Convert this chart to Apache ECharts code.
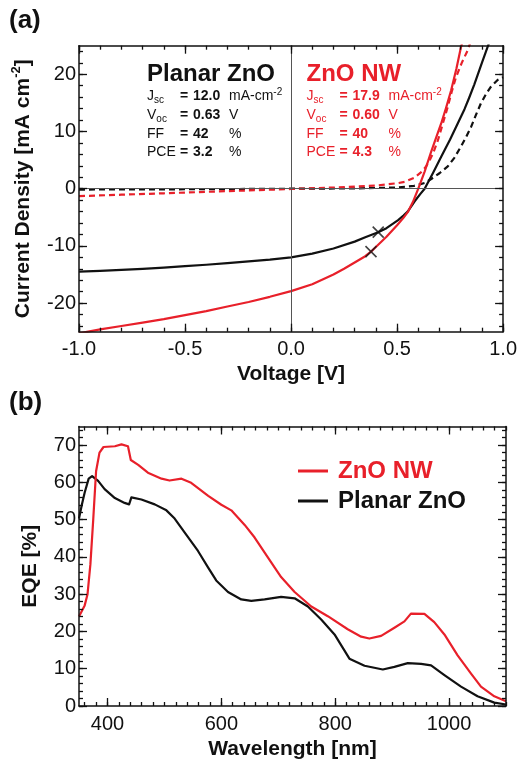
<!DOCTYPE html>
<html lang="en">
<head>
<meta charset="UTF-8">
<title>ZnO NW vs Planar ZnO</title>
<style>html,body{margin:0;padding:0;background:#fff;}</style>
</head>
<body>
<div id="chart" style="width:520px;height:763px;"></div>
<script src="https://cdn.jsdelivr.net/npm/echarts@6/dist/echarts.min.js"></script>
<script>
// (a) J-V curves, [voltage V, current density mA/cm2]
const nwLight = [[-1.0, -25.3], [-0.9, -24.6], [-0.8, -24.0], [-0.7, -23.4], [-0.6, -22.8], [-0.5, -22.1],
  [-0.4, -21.4], [-0.3, -20.6], [-0.2, -19.8], [-0.1, -18.9], [0.0, -17.9], [0.1, -16.7], [0.2, -15.0],
  [0.25, -14.0], [0.3, -12.9], [0.35, -11.8], [0.377, -11.0], [0.4, -10.2], [0.45, -8.4], [0.5, -6.4],
  [0.53, -5.1], [0.552, -4.0], [0.575, -2.3], [0.6, 0.0], [0.63, 3.0], [0.661, 6.5], [0.685, 9.0],
  [0.708, 11.4], [0.73, 14.0], [0.755, 17.2], [0.78, 21.0], [0.8, 24.5], [0.81, 26.0]];
const nwDark = [[-1.0, -1.3], [-0.8, -1.05], [-0.6, -0.8], [-0.4, -0.55], [-0.2, -0.3], [0.0, -0.05],
  [0.2, 0.2], [0.4, 0.55], [0.5, 0.95], [0.536, 1.2], [0.58, 1.9], [0.614, 2.9], [0.635, 3.8],
  [0.653, 4.9], [0.672, 6.4], [0.692, 8.4], [0.715, 11.3], [0.739, 14.3], [0.758, 17.0], [0.778, 19.5],
  [0.805, 22.0], [0.833, 24.2], [0.845, 25.5]];
const planarLight = [[-1.0, -14.5], [-0.9, -14.35], [-0.8, -14.2], [-0.7, -14.0], [-0.6, -13.8], [-0.5, -13.55],
  [-0.4, -13.3], [-0.3, -13.0], [-0.2, -12.7], [-0.1, -12.4], [0.0, -12.0], [0.1, -11.35], [0.2, -10.45],
  [0.3, -9.25], [0.35, -8.5], [0.411, -7.6], [0.45, -6.9], [0.505, -5.5], [0.53, -4.7], [0.55, -4.0],
  [0.583, -2.2], [0.61, -0.9], [0.63, 0.0], [0.67, 2.8], [0.708, 5.6], [0.75, 8.6], [0.786, 11.4],
  [0.818, 13.9], [0.84, 15.9], [0.864, 18.2], [0.9, 22.0], [0.927, 24.8], [0.935, 25.6]];
const planarDark = [[-1.0, -0.15], [-0.5, -0.1], [0.0, 0.0], [0.3, 0.05], [0.5, 0.2], [0.58, 0.5],
  [0.63, 1.0], [0.661, 1.7], [0.7, 2.7], [0.739, 3.9], [0.77, 5.4], [0.8, 7.3], [0.825, 9.0],
  [0.849, 10.8], [0.872, 12.9], [0.895, 14.9], [0.92, 16.6], [0.942, 17.8], [0.974, 19.0], [1.0, 19.5]];
// maximum power points
const mppPoints = [[0.411, -7.6], [0.377, -11.0]];

// (b) EQE spectra, [wavelength nm, EQE %]
const nwEqe = [[350, 24.0], [360, 27.0], [365, 30.0], [370, 38.0], [375, 50.0], [380, 63.0], [386, 68.0],
  [393, 69.5], [413, 69.7], [424.6, 70.2], [436, 69.7], [441, 66.0], [454, 64.7], [471, 62.6], [495, 61.0],
  [509, 60.5], [530, 61.0], [547, 59.9], [577, 56.4], [600, 54.0], [617.5, 52.5], [641, 48.6], [658.5, 45.2],
  [682, 39.8], [705, 34.6], [728.7, 30.6], [758, 26.7], [787, 24.1], [822, 20.6], [845.6, 18.6], [860, 18.1],
  [880.7, 18.8], [904, 21.0], [921.6, 22.7], [933, 24.8], [956.7, 24.7], [974, 22.5], [991.8, 19.2],
  [1015, 13.6], [1038.6, 8.7], [1056, 5.2], [1079.5, 2.6], [1100, 1.3]];
const planarEqe = [[350, 50.3], [355, 54.0], [360, 57.3], [367, 61.0], [373, 61.7], [383.6, 60.4], [395, 58.2],
  [413, 55.8], [430, 54.5], [438, 54.1], [442, 56.0], [459.6, 55.4], [483, 54.1], [503.5, 52.5], [518, 50.3],
  [538.6, 45.9], [559, 41.6], [576.6, 37.2], [591, 33.7], [611.7, 30.6], [635, 28.6], [652.6, 28.2],
  [676, 28.6], [705, 29.3], [728.7, 28.9], [752, 26.7], [775.4, 23.2], [798.8, 19.2], [825, 12.7],
  [851.5, 10.8], [883.6, 9.8], [904, 10.5], [927.5, 11.5], [950.9, 11.3], [968.4, 10.9], [991.8, 8.3],
  [1021, 5.2], [1050, 2.6], [1079.5, 0.9], [1100, 0.4]];

// tick labels / tick positions
const voltTicks = [-1.0, -0.5, 0.0, 0.5, 1.0];
const currentTicks = [-20, -10, 0, 10, 20];
const waveTicks = [400, 600, 800, 1000];
const eqeTicks = [0, 10, 20, 30, 40, 50, 60, 70];

function steps(a, b, step) {
  const out = [];
  for (let v = a; v <= b + 1e-9; v += step) out.push(Math.round(v * 1000) / 1000);
  return out;
}
const voltMinor = steps(-1, 1, 0.1);
const currentMinor = steps(-24, 24, 2);
const waveMinor = steps(360, 1100, 20);
const eqeMinor = steps(0, 74, 2);

// device parameters printed in panel (a)
const paramNames = ['{m|J}{s|sc}', '{m|V}{s|oc}', '{m|FF}', '{m|PCE}'];
const planarParams = ['12.0', '0.63', '42', '3.2'];
const nwParams = ['17.9', '0.60', '40', '4.3'];
const paramUnits = ['{m|mA-cm}{p|-2}', '{m|V}', '{m|%}', '{m|%}'];

const RED = '#e8202a';
const BLACK = '#111111';
const FONT = 'Liberation Sans';

// plot boxes (px) and their value ranges
const panelA = {l: 79, r: 505.7, t: 45.7, b: 331.7, x: [-1, 1], y: [-25, 25]};
const panelB = {l: 79, r: 506, t: 426.5, b: 711.7, x: [350, 1100], y: [0, 75]};

const grid = [], xAxis = [], yAxis = [];

// one grid per panel; major and minor tick axes sit on top of each other
function addPanel(p, t) {
  grid.push({left: p.l, top: p.t, width: p.r - p.l, height: p.b - p.t});
  const gi = grid.length - 1;
  const nameStyle = {fontSize: 21, fontWeight: 'bold', color: BLACK, fontFamily: FONT, lineHeight: 26,
    rich: {p: {fontSize: 13, fontWeight: 'bold', fontFamily: FONT, lineHeight: 13, verticalAlign: 'top', color: BLACK}}};
  const lab = {show: true, fontSize: 20, color: BLACK, fontFamily: FONT};
  const lineOn = {show: true, onZero: false, lineStyle: {color: BLACK, width: 1.5}};
  const lineOff = {show: false, onZero: false};
  function tick(values, len) {
    return {show: true, inside: true, length: len, customValues: values, lineStyle: {color: BLACK, width: 1.3}};
  }
  const xBase = {gridIndex: gi, type: 'value', min: p.x[0], max: p.x[1], splitLine: {show: false}, z: 10};
  const yBase = {gridIndex: gi, type: 'value', min: p.y[0], max: p.y[1], splitLine: {show: false}, z: 10};

  const xi = xAxis.length;
  xAxis.push({...xBase, position: 'bottom', axisLine: lineOn, axisTick: tick(t.xMajor, 8),
    axisLabel: {...lab, margin: 8, customValues: t.xMajor, formatter: t.xFmt},
    name: t.xName, nameLocation: 'middle', nameGap: 30, nameTextStyle: nameStyle});
  xAxis.push({...xBase, position: 'top', axisLine: lineOn, axisTick: tick(t.xMajor, 8), axisLabel: {show: false}});
  xAxis.push({...xBase, position: 'bottom', axisLine: lineOff, axisTick: tick(t.xMinor, 4), axisLabel: {show: false}});
  xAxis.push({...xBase, position: 'top', axisLine: lineOff, axisTick: tick(t.xMinor, 4), axisLabel: {show: false}});

  const yi = yAxis.length;
  yAxis.push({...yBase, position: 'left', axisLine: lineOn, axisTick: tick(t.yMajor, 8),
    axisLabel: {...lab, margin: 3, customValues: t.yMajor, formatter: t.yFmt},
    name: t.yName, nameLocation: 'middle', nameGap: 36, nameTextStyle: nameStyle});
  yAxis.push({...yBase, position: 'right', axisLine: lineOn, axisTick: tick(t.yMajor, 8), axisLabel: {show: false}});
  yAxis.push({...yBase, position: 'left', axisLine: lineOff, axisTick: tick(t.yMinor, 4), axisLabel: {show: false}});
  yAxis.push({...yBase, position: 'right', axisLine: lineOff, axisTick: tick(t.yMinor, 4), axisLabel: {show: false}});
  return {xi: xi, yi: yi};
}

const axA = addPanel(panelA, {
  xMajor: voltTicks, xMinor: voltMinor, yMajor: currentTicks, yMinor: currentMinor,
  xFmt: v => Number(v).toFixed(1), yFmt: v => String(Math.round(v)),
  xName: 'Voltage [V]', yName: 'Current Density [mA cm{p|-2}]'
});
const axB = addPanel(panelB, {
  xMajor: waveTicks, xMinor: waveMinor, yMajor: eqeTicks, yMinor: eqeMinor,
  xFmt: v => String(Math.round(v)), yFmt: v => String(Math.round(v)),
  xName: 'Wavelength [nm]', yName: 'EQE [%]'
});

// text in panel (a) and the panel letters
const graphic = [];
const rowY = [96.5, 115, 134, 152.5];

function richStyles() {
  return {
    m: {fontSize: 14, fontFamily: FONT, lineHeight: 18},
    s: {fontSize: 10, fontFamily: FONT, lineHeight: 10, verticalAlign: 'bottom'},
    p: {fontSize: 10, fontFamily: FONT, lineHeight: 10, verticalAlign: 'top'}
  };
}

function txt(x, y, text, extra) {
  graphic.push({
    type: 'text', x: x, y: y, silent: true,
    style: Object.assign({text: text, fill: BLACK, fontFamily: FONT, fontSize: 14,
      textVerticalAlign: 'middle', verticalAlign: 'middle'}, extra)
  });
}

function paramBlock(x0, title, values, color) {
  txt(x0, 74.5, title, {fill: color, fontSize: 24, fontWeight: 'bold'});
  for (let i = 0; i < paramNames.length; i++) {
    const y = rowY[i];
    txt(x0, y, paramNames[i], {fill: color, rich: richStyles()});
    txt(x0 + 33, y, '=', {fill: color, fontWeight: 'bold'});
    txt(x0 + 46, y, values[i], {fill: color, fontWeight: 'bold'});
    txt(x0 + 82, y, paramUnits[i], {fill: color, rich: richStyles()});
  }
}

paramBlock(147, 'Planar ZnO', planarParams, BLACK);
paramBlock(306.5, 'ZnO NW', nwParams, RED);
txt(9, 21, '(a)', {fontSize: 26, fontWeight: 'bold'});
txt(9, 402.5, '(b)', {fontSize: 26, fontWeight: 'bold'});

function curve(name, axes, data, color, dashed) {
  return {
    name: name, type: 'line', xAxisIndex: axes.xi, yAxisIndex: axes.yi, data: data,
    showSymbol: false, clip: true, silent: true,
    itemStyle: {color: color},
    lineStyle: {color: color, width: 2.2, type: dashed ? [6, 4] : 'solid', join: 'round'}
  };
}

const zeroLines = curve('Planar ZnO (dark)', axA, planarDark, BLACK, true);
zeroLines.markLine = {
  silent: true, symbol: 'none', label: {show: false},
  lineStyle: {color: '#555555', width: 1, type: 'solid'},
  data: [{yAxis: 0}, {xAxis: 0}]
};

const option = {
  animation: false,
  backgroundColor: '#ffffff',
  textStyle: {fontFamily: FONT},
  grid: grid,
  xAxis: xAxis,
  yAxis: yAxis,
  graphic: graphic,
  legend: {
    orient: 'vertical', left: 298, top: 459, padding: 0, itemWidth: 30, itemHeight: 3, itemGap: 6,
    icon: 'rect', selectedMode: false,
    textStyle: {fontSize: 24, fontWeight: 'bold', fontFamily: FONT, lineHeight: 24, padding: [0, 0, 0, 5]},
    data: [
      {name: 'ZnO NW', textStyle: {color: RED}},
      {name: 'Planar ZnO', textStyle: {color: BLACK}}
    ]
  },
  series: [
    zeroLines,
    curve('ZnO NW (dark)', axA, nwDark, RED, true),
    curve('Planar ZnO (light)', axA, planarLight, BLACK, false),
    curve('ZnO NW (light)', axA, nwLight, RED, false),
    {
      name: 'MPP', type: 'scatter', xAxisIndex: axA.xi, yAxisIndex: axA.yi, data: mppPoints,
      symbol: 'path://M0,0L10,10M10,0L0,10', symbolSize: 11, silent: true, z: 5,
      itemStyle: {color: 'none', borderColor: BLACK, borderWidth: 1.6}
    },
    curve('Planar ZnO', axB, planarEqe, BLACK, false),
    curve('ZnO NW', axB, nwEqe, RED, false)
  ]
};

const chart = echarts.init(document.getElementById('chart'));
chart.setOption(option);
</script>
</body>
</html>
